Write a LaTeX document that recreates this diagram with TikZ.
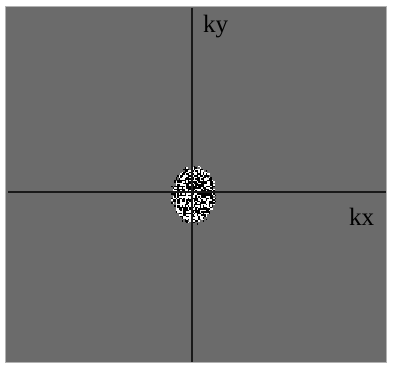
\documentclass[tikz,border=0pt]{standalone}
\usepackage{fontspec}
\setmainfont{Liberation Serif}
\begin{document}
\begin{tikzpicture}[x=1pt, y=-1pt,
  axis/.style={line width=1.4pt, draw=black!90},
  lbl/.style={font=\fontsize{25}{25}\selectfont, inner sep=0pt, anchor=base west}]
\useasboundingbox (0,0) rectangle (393,366);
\pgfmathsetseed{4711}
% frame
\fill[fill=black!58, draw=black!30, line width=0.8pt] (5,6) rectangle (386,362);
% speckled spot
\foreach \i in {0,...,29}{
  \foreach \j in {0,...,38}{
    \pgfmathsetmacro\px{171+1.5*\i}
    \pgfmathsetmacro\py{166+1.5*\j}
    \pgfmathsetmacro\rr{((\px+0.75-193.5)/22)^2+((\py+0.75-195)/29)^2+0.35*rnd}
    \ifdim\rr pt<1.1pt
      \pgfmathsetmacro\sh{rnd<0.45 ? 100 : 0}
      \fill[white!\sh!black] (\px,\py) rectangle ++(1.5,1.5);
    \fi
  }
}
% axes
\coordinate (ytop) at (192,8);
\coordinate (ybot) at (192,362);
\coordinate (xlft) at (8,192);
\coordinate (xrgt) at (386,192);
\draw[axis] (ytop) -- (ybot);
\draw[axis] (xlft) -- (xrgt);
\node[lbl] (ky) at (203,33) {ky};
\node[lbl] (kx) at (349,225) {kx};
\end{tikzpicture}
\end{document}
